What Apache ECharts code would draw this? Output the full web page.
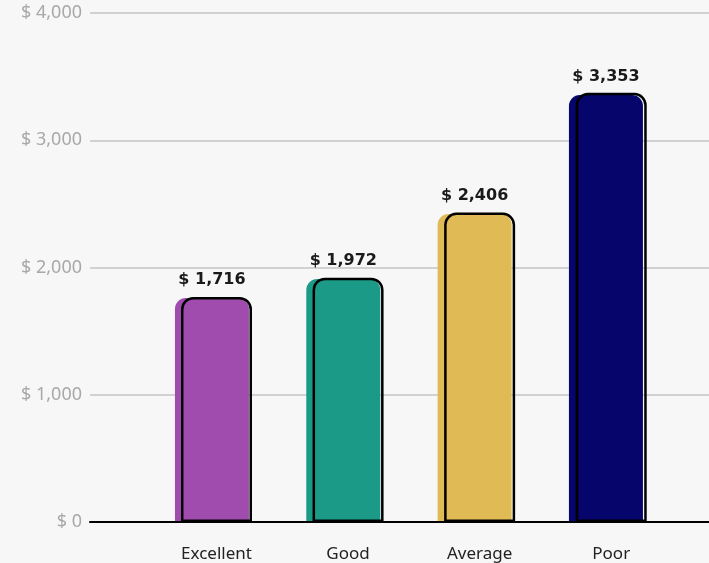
<!DOCTYPE html>
<html>
<head>
<meta charset="utf-8">
<script src="https://cdn.jsdelivr.net/npm/echarts@6/dist/echarts.min.js"></script>
<style>
html,body{margin:0;padding:0;background:#f7f7f7;}
#chart{width:709px;height:563px;}
</style>
</head>
<body>
<div id="chart"></div>
<script>
// Data
const categories = ['Excellent', 'Good', 'Average', 'Poor'];
const barValues = [1760, 1910, 2420, 3356];          // bar heights as drawn
const valueLabels = ['$ 1,716', '$ 1,972', '$ 2,406', '$ 3,353']; // printed labels
const barColors = ['#A04CAF', '#1A9A87', '#E0BA55', '#05056B'];
const yTickLabels = ['$ 0', '$ 1,000', '$ 2,000', '$ 3,000', '$ 4,000'];
const yMax = 4000;
const yInterval = 1000;

const chart = echarts.init(document.getElementById('chart'));
const hiddenY = {
  type: 'value', min: 0, max: yMax, interval: yInterval, show: false
};
chart.setOption({
  backgroundColor: '#f7f7f7',
  animation: false,
  grid: [
    { left: 90, right: 0, top: 13, bottom: 41 },
    { left: 146.3, right: 37.4, top: 13, bottom: 41 },
    { left: 150.7, right: 32, top: 10.5, bottom: 41 }
  ],
  xAxis: [
    {
      gridIndex: 0, type: 'category', data: categories,
      axisLine: { lineStyle: { color: '#000', width: 2 } },
      axisTick: { show: false }, axisLabel: { show: false }, z: 5
    },
    {
      gridIndex: 1, type: 'category', data: categories, show: false
    },
    {
      gridIndex: 2, type: 'category', data: categories,
      axisLine: { show: false }, axisTick: { show: false },
      axisLabel: {
        margin: 24, color: '#222', fontSize: 17,
        fontFamily: 'Noto Sans'
      }
    }
  ],
  yAxis: [
    {
      gridIndex: 0, type: 'value', min: 0, max: yMax, interval: yInterval,
      axisLine: { show: false }, axisTick: { show: false },
      axisLabel: {
        margin: 8, color: '#a8a8a8', fontSize: 18, fontFamily: 'Noto Sans',
        formatter: (v) => yTickLabels[Math.round(v / yInterval)]
      },
      splitLine: { lineStyle: { color: '#c4c4c4', width: 1.5 } }
    },
    Object.assign({ gridIndex: 1 }, hiddenY),
    Object.assign({ gridIndex: 2 }, hiddenY)
  ],
  series: [
    {
      type: 'bar', xAxisIndex: 1, yAxisIndex: 1, barWidth: 74,
      data: barValues.map((v, i) => ({ value: v, itemStyle: { color: barColors[i] } })),
      itemStyle: { borderRadius: [11, 11, 0, 0] },
      label: {
        show: true, position: 'top', distance: 10,
        fontFamily: 'DejaVu Sans', fontWeight: 'bold', fontSize: 16, color: '#1a1a1a',
        formatter: (p) => valueLabels[p.dataIndex]
      },
      z: 2
    },
    {
      type: 'bar', xAxisIndex: 2, yAxisIndex: 2, barWidth: 71,
      data: barValues,
      itemStyle: {
        color: 'rgba(0,0,0,0)', borderColor: '#000', borderWidth: 2.5,
        borderRadius: [11, 11, 0, 0]
      },
      z: 3
    }
  ]
});
</script>
</body>
</html>
